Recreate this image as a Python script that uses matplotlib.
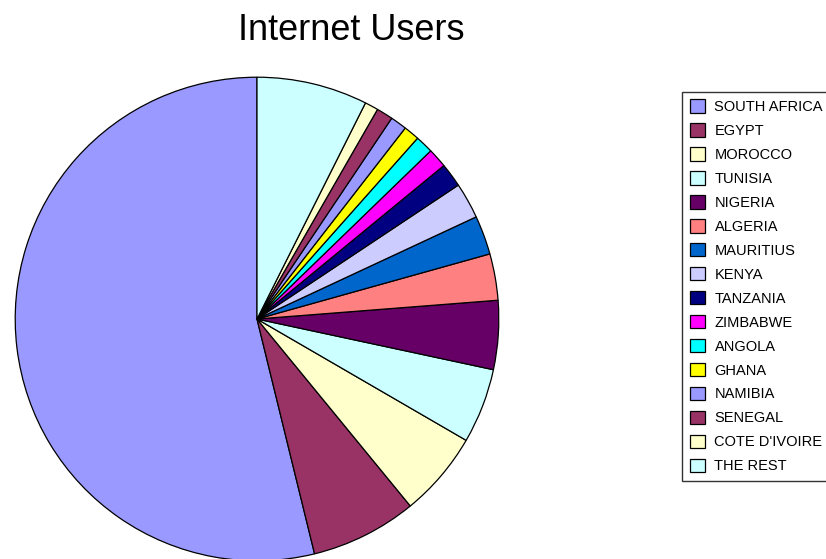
import matplotlib
matplotlib.use("Agg")
import matplotlib.pyplot as plt

countries = ['SOUTH AFRICA', 'EGYPT', 'MOROCCO', 'TUNISIA', 'NIGERIA', 'ALGERIA',
             'MAURITIUS', 'KENYA', 'TANZANIA', 'ZIMBABWE', 'ANGOLA', 'GHANA',
             'NAMIBIA', 'SENEGAL', "COTE D'IVOIRE", 'THE REST']
shares = [53.8, 7.1, 5.7, 5.0, 4.6, 3.1, 2.6, 2.4, 1.6, 1.3, 1.2, 1.05, 1.1, 1.1, 0.9, 7.4]
colors = ['#9999FF', '#993366', '#FFFFCC', '#CCFFFF', '#660066', '#FF8080',
          '#0066CC', '#CCCCFF', '#000080', '#FF00FF', '#00FFFF', '#FFFF00',
          '#9999FF', '#993366', '#FFFFCC', '#CCFFFF']

W, H = 826, 559
fig = plt.figure(figsize=(W / 100, H / 100), dpi=100)
fig.patch.set_facecolor('white')

# pie axes: centre (257, 319) px from top-left, radius 243 px
cx, cy, r = 257, 319, 243
ax = fig.add_axes([(cx - r) / W, (H - cy - r) / H, 2 * r / W, 2 * r / H])
wedges, _ = ax.pie(shares, colors=colors, startangle=90, counterclock=True,
                   radius=1.0,
                   wedgeprops=dict(edgecolor='black', linewidth=0.9))
ax.set_xlim(-1.005, 1.005)
ax.set_ylim(-1.005, 1.005)
ax.set_aspect('equal')
ax.axis('off')

fig.text(351 / W, 1 - 31 / H, 'Internet Users', ha='center', va='center',
         fontsize=26, family='Liberation Sans', color='black')

fs = 10.5
fs_px = fs * 100 / 72
leg = fig.legend(wedges, countries, loc='upper left',
                 bbox_to_anchor=(682 / W, 1 - 92 / H),
                 bbox_transform=fig.transFigure,
                 prop={'family': 'Liberation Sans', 'size': fs},
                 frameon=True, fancybox=False, shadow=False,
                 handlelength=15 / fs_px, handleheight=15 / fs_px,
                 handletextpad=10 / fs_px,
                 labelspacing=9.3 / fs_px, borderpad=7.5 / fs_px, borderaxespad=0.0)
leg.get_frame().set_edgecolor('black')
leg.get_frame().set_linewidth(1.0)

fig.savefig('out.png', dpi=100, facecolor='white')
